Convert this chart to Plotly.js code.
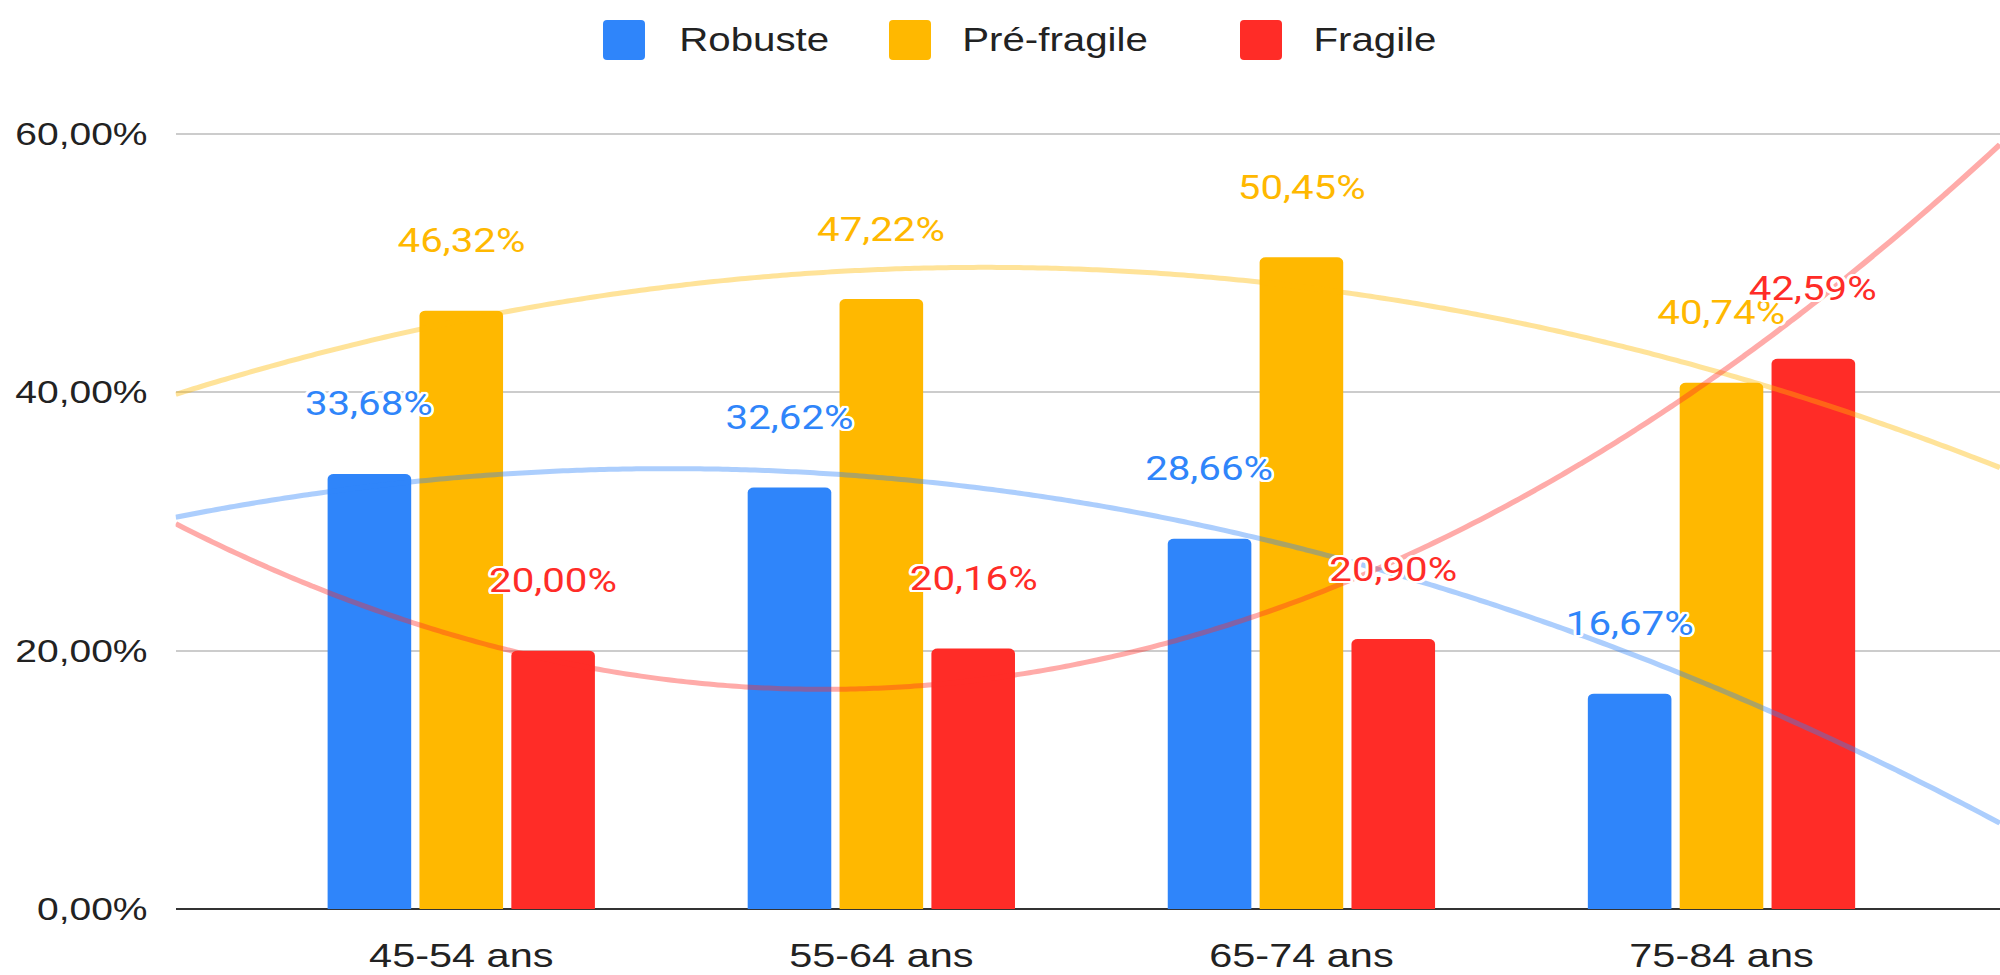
<!DOCTYPE html>
<html><head><meta charset="utf-8">
<script src="https://cdn.plot.ly/plotly-3.0.1.min.js"></script>
<style>
html,body{margin:0;padding:0;overflow:hidden;background:#fff}
#wrap{width:2000px;height:975px;overflow:hidden}
#chart{width:1640px;height:975px;transform:scaleX(1.2195122);transform-origin:0 0}
</style></head><body><div id="wrap"><div id="chart"></div></div>
<script>
// ---- data ----
const categories = ['45-54 ans', '55-64 ans', '65-74 ans', '75-84 ans'];
const seriesNames = ['Robuste', 'Pré-fragile', 'Fragile'];
const robuste = [33.68, 32.62, 28.66, 16.67];
const preFragile = [46.32, 47.22, 50.45, 40.74];
const fragile = [20.00, 20.16, 20.90, 42.59];
const yTickVals = [0, 20, 40, 60];
const yTickText = ['0,00%', '20,00%', '40,00%', '60,00%'];

// ---- style / layout constants ----
const colors = ['#2f85fa', '#ffb800', '#ff2c27'];
const W = 1640, H = 975, S = 2000 / W;
const ML = 144, MR = 0, MT = 121, MB = 66;
const PW = W - ML - MR, PB = H - MB, PH = PB - MT;
const XR = [-0.68, 3.663];
const BARGAP = 0.344, GROUPGAP = 0.09;
const series = [robuste, preFragile, fragile];
const xIdx = categories.map((c, i) => i);

// quadratic least-squares trend line (as in the source chart)
function quadFit(xs, ys) {
  const n = xs.length;
  let s = [0,0,0,0,0], t = [0,0,0];
  for (let i = 0; i < n; i++) {
    const x = xs[i], y = ys[i];
    for (let k = 0; k < 5; k++) s[k] += Math.pow(x, k);
    for (let k = 0; k < 3; k++) t[k] += y * Math.pow(x, k);
  }
  const A = [[s[0], s[1], s[2], t[0]], [s[1], s[2], s[3], t[1]], [s[2], s[3], s[4], t[2]]];
  for (let c = 0; c < 3; c++) {
    for (let r = c + 1; r < 3; r++) {
      const f = A[r][c] / A[c][c];
      for (let k = c; k < 4; k++) A[r][k] -= f * A[c][k];
    }
  }
  const b = [0,0,0];
  for (let r = 2; r >= 0; r--) {
    let v = A[r][3];
    for (let k = r + 1; k < 3; k++) v -= A[r][k] * b[k];
    b[r] = v / A[r][r];
  }
  return x => b[0] + b[1] * x + b[2] * x * x;
}

const traces = [];
series.forEach((vals, j) => {
  traces.push({
    type: 'bar', x: xIdx, y: vals, name: seriesNames[j],
    marker: {color: colors[j]}, hoverinfo: 'skip', showlegend: false
  });
});
series.forEach((vals, j) => {
  const f = quadFit(xIdx, vals);
  const xs = [], ys = [];
  const N = 200;
  for (let k = 0; k <= N; k++) {
    const x = XR[0] + (XR[1] - XR[0]) * k / N;
    xs.push(x); ys.push(f(x));
  }
  traces.push({
    type: 'scatter', mode: 'lines', x: xs, y: ys, hoverinfo: 'skip', showlegend: false,
    line: {color: colors[j], width: 5, shape: 'spline'}, opacity: 0.4
  });
});

const slot = (1 - BARGAP) / series.length;
const halo = [];
for (let a = 0; a < 16; a++) {
  const ang = a / 16 * 2 * Math.PI;
  halo.push((2.6 * Math.cos(ang)).toFixed(2) + 'px ' + (2.6 * Math.sin(ang)).toFixed(2) + 'px 0 #fff');
}
const annotations = [];
series.forEach((vals, j) => {
  vals.forEach((v, i) => {
    annotations.push({
      x: i + (j - (series.length - 1) / 2) * slot, y: v, xref: 'x', yref: 'y',
      text: v.toFixed(2).replace('.', ',') + '%', showarrow: false,
      yanchor: 'middle', xanchor: 'center', yshift: 70,
      font: {family: 'Roboto, sans-serif', size: 33, color: colors[j], shadow: halo.join(', ')}
    });
  });
});

// custom legend (large rounded squares)
const px2x = p => (p / S - ML) / PW;
const px2y = p => (PB - p) / PH;
const legSquareX = [603, 889, 1240], legTextX = [677, 960, 1311];
const shapes = [];
seriesNames.forEach((nm, j) => {
  const x0 = px2x(legSquareX[j]), x1 = px2x(legSquareX[j] + 42);
  const y0 = px2y(60), y1 = px2y(20);
  const rx = 4 / S / PW, ry = 4 / PH;
  const path = `M${x0+rx},${y0} L${x1-rx},${y0} Q${x1},${y0} ${x1},${y0+ry} L${x1},${y1-ry} Q${x1},${y1} ${x1-rx},${y1} L${x0+rx},${y1} Q${x0},${y1} ${x0},${y1-ry} L${x0},${y0+ry} Q${x0},${y0} ${x0+rx},${y0} Z`;
  shapes.push({type: 'path', xref: 'paper', yref: 'paper', path: path, fillcolor: colors[j], line: {width: 0}});
  annotations.push({
    x: px2x(legTextX[j]), y: px2y(39), xref: 'paper', yref: 'paper', showarrow: false,
    xanchor: 'left', yanchor: 'middle', text: nm,
    font: {family: 'Liberation Sans, Arial, sans-serif', size: 33, color: '#222'}
  });
});

const layout = {
  width: W, height: H,
  margin: {l: ML, r: MR, t: MT, b: MB, pad: 0},
  paper_bgcolor: '#fff', plot_bgcolor: '#fff',
  separators: ', ',
  barmode: 'group', bargap: BARGAP, bargroupgap: GROUPGAP, barcornerradius: 5,
  showlegend: false,
  xaxis: {
    range: XR, tickvals: xIdx, ticktext: categories, showgrid: false, zeroline: false,
    showline: false, ticks: '', ticklabelstandoff: 23,
    tickfont: {family: 'Liberation Sans, Arial, sans-serif', size: 34, color: '#222'}
  },
  yaxis: {
    range: [0, 61], tickvals: yTickVals, ticktext: yTickText,
    showgrid: true, gridcolor: '#cccccc', gridwidth: 2,
    zeroline: true, zerolinecolor: '#333333', zerolinewidth: 2.5,
    showline: false, ticks: '', ticklabelstandoff: 22,
    tickfont: {family: 'Liberation Sans, Arial, sans-serif', size: 32, color: '#222'}
  },
  shapes: shapes,
  annotations: annotations
};

Plotly.newPlot('chart', traces, layout, {displayModeBar: false, staticPlot: true});
</script></body></html>
